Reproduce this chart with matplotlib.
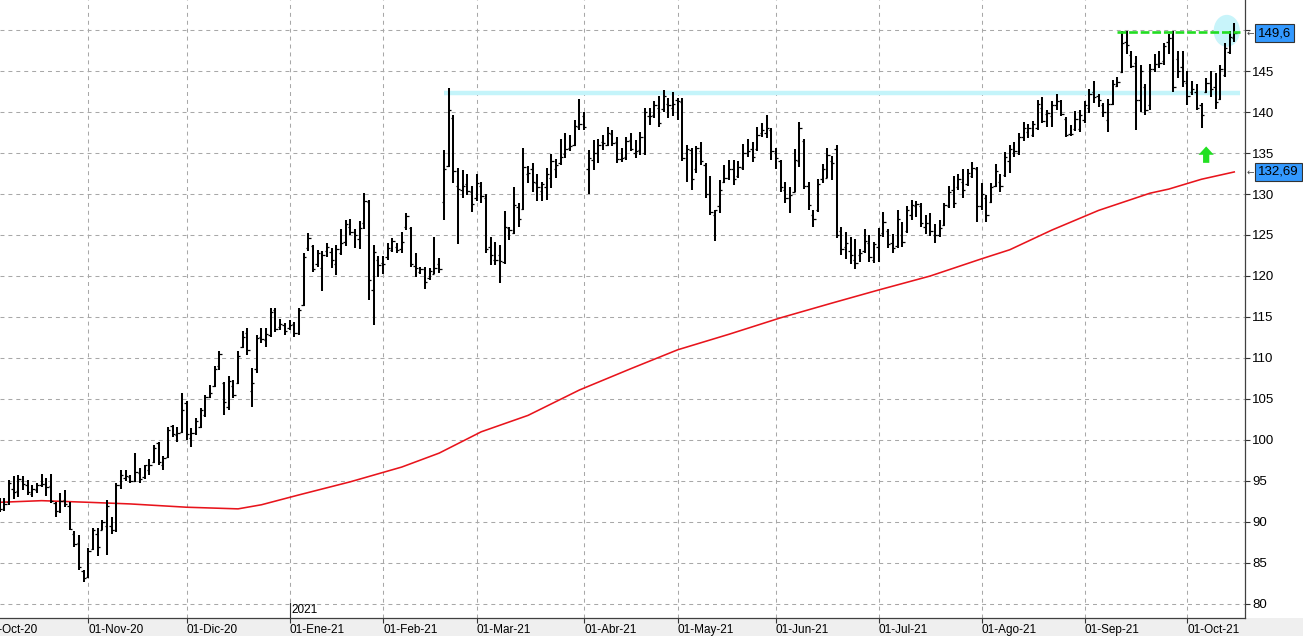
import numpy as np
import matplotlib.pyplot as plt
import matplotlib.transforms as mtransforms
from matplotlib.patches import Ellipse, Rectangle

plt.rcParams['font.family'] = ['Liberation Sans', 'DejaVu Sans']

# daily OHLC bars, bar index 0 = 01-Oct-20 (trading days)
first_bar = 3
highs = [92.9, 92.9, 95.1, 95.6, 95.7, 95.6, 95.1, 94.5, 94.8, 95.8,
         95.4, 95.8, 92.4, 93.5, 93.9, 92.4, 88.9, 88.4, 84.1, 86.8,
         89.3, 89.3, 90.2, 92.7, 90.6, 94.8, 96.3, 96.3, 95.7, 98.4,
         96.6, 97.0, 97.7, 99.4, 99.8, 98.0, 101.6, 101.8, 101.6, 105.7,
         104.7, 101.5, 102.7, 103.9, 105.5, 106.7, 109.0, 110.8, 107.1, 107.8,
         107.3, 110.8, 113.3, 113.7, 108.8, 112.8, 113.7, 113.7, 116.1, 116.1,
         114.8, 114.3, 114.6, 114.4, 116.1, 122.8, 125.2, 123.8, 123.2, 123.1,
         124.0, 123.4, 123.8, 125.7, 126.8, 126.9, 125.7, 126.7, 130.1, 129.3,
         123.8, 122.4, 122.4, 124.0, 124.6, 124.0, 125.4, 127.7, 126.0, 122.8,
         121.1, 121.1, 121.0, 124.8, 122.2, 135.4, 142.9, 139.6, 133.2, 132.9,
         132.4, 131.0, 132.4, 131.5, 130.0, 124.8, 124.2, 123.8, 127.9, 126.0,
         130.8, 128.9, 135.6, 133.4, 133.8, 132.4, 131.5, 133.2, 134.9, 134.3,
         136.7, 137.4, 137.2, 139.0, 141.6, 140.0, 135.4, 136.6, 136.7, 137.2,
         138.2, 137.8, 137.0, 135.6, 137.0, 137.4, 136.6, 137.6, 140.5, 140.5,
         141.3, 141.9, 142.7, 141.7, 142.5, 141.7, 141.7, 136.0, 135.6, 135.8,
         136.3, 133.8, 132.2, 128.0, 131.7, 133.5, 134.1, 134.1, 134.0, 136.1,
         136.7, 136.4, 138.2, 138.6, 139.6, 138.0, 135.6, 134.1, 131.5, 130.8,
         135.5, 138.8, 136.7, 131.5, 128.1, 131.8, 133.7, 135.6, 134.6, 136.0,
         126.0, 125.4, 124.8, 124.5, 123.3, 125.7, 125.0, 124.2, 125.8, 127.8,
         125.7, 125.1, 128.0, 126.6, 128.5, 129.3, 129.1, 128.9, 127.4, 127.7,
         126.3, 126.8, 128.9, 131.0, 132.2, 132.5, 133.1, 133.1, 133.9, 133.3,
         131.3, 129.9, 131.4, 133.7, 132.4, 135.1, 136.0, 136.4, 137.4, 138.8,
         138.5, 138.9, 141.5, 141.8, 140.2, 141.3, 142.2, 141.5, 139.4, 138.4,
         140.1, 140.2, 141.3, 142.8, 143.8, 142.2, 141.1, 141.6, 143.9, 144.3,
         149.9, 149.9, 147.4, 146.8, 145.7, 143.4, 145.9, 147.1, 147.4, 148.4,
         149.5, 149.9, 147.4, 147.4, 145.0, 143.8, 143.4, 141.1, 144.1, 145.0,
         144.7, 145.7, 148.4, 149.9, 150.9]
lows = [91.2, 91.3, 92.1, 92.8, 93.0, 93.9, 93.3, 93.0, 93.5, 94.3,
        93.2, 92.3, 90.6, 91.1, 91.8, 89.0, 87.0, 84.1, 82.7, 83.2,
        86.6, 85.8, 89.0, 86.0, 88.5, 88.8, 94.0, 95.0, 94.8, 94.9,
        94.8, 95.3, 95.7, 97.2, 97.0, 96.3, 97.8, 100.4, 99.8, 100.9,
        100.0, 99.2, 100.6, 101.5, 102.8, 105.1, 106.5, 108.5, 103.0, 103.7,
        105.1, 106.8, 111.2, 110.4, 104.0, 108.2, 111.8, 111.4, 112.6, 113.2,
        113.4, 112.8, 113.4, 112.6, 112.8, 116.3, 123.0, 120.5, 121.1, 118.2,
        122.3, 121.0, 120.1, 122.6, 123.7, 125.0, 123.4, 123.3, 125.7, 117.1,
        114.0, 119.9, 120.3, 122.0, 122.9, 122.8, 122.8, 125.6, 121.1, 119.9,
        120.3, 118.4, 119.5, 120.2, 120.4, 126.8, 133.3, 131.4, 123.9, 129.5,
        129.9, 127.8, 129.1, 128.9, 122.8, 121.3, 121.3, 119.2, 121.5, 124.4,
        125.1, 126.0, 128.0, 131.4, 130.2, 129.2, 129.1, 129.3, 130.7, 132.0,
        133.5, 134.4, 135.2, 135.8, 137.8, 137.8, 130.0, 132.9, 133.8, 135.4,
        135.8, 135.8, 133.8, 133.9, 134.1, 135.2, 134.4, 134.8, 134.8, 138.4,
        139.3, 138.2, 140.0, 139.3, 139.5, 139.0, 134.0, 131.5, 130.5, 132.6,
        133.5, 129.5, 127.4, 124.3, 127.7, 131.3, 131.7, 131.1, 131.9, 132.9,
        134.5, 133.9, 135.2, 137.0, 136.8, 134.1, 133.1, 130.3, 128.9, 127.7,
        130.2, 133.3, 130.6, 128.0, 126.0, 127.8, 131.4, 131.9, 131.7, 124.6,
        122.6, 122.1, 121.5, 120.9, 121.7, 122.8, 121.7, 121.6, 121.7, 124.8,
        123.4, 122.8, 123.4, 123.5, 125.3, 126.8, 127.2, 126.0, 125.1, 124.9,
        124.0, 124.8, 126.1, 128.3, 128.3, 130.5, 129.5, 131.0, 131.9, 126.6,
        128.0, 126.6, 128.9, 130.9, 130.2, 132.1, 132.6, 134.5, 134.8, 136.5,
        136.8, 136.9, 137.8, 138.6, 138.2, 138.2, 140.2, 139.5, 136.9, 137.1,
        137.7, 137.6, 138.7, 139.9, 141.1, 140.6, 139.4, 137.6, 140.9, 143.0,
        144.8, 147.1, 145.4, 137.8, 140.0, 139.6, 140.3, 144.9, 145.4, 145.7,
        147.1, 142.5, 144.2, 143.1, 140.9, 142.1, 140.2, 138.1, 142.3, 141.8,
        140.4, 141.5, 144.3, 147.1, 148.5]
opens = [92.5, 91.6, 92.4, 94.0, 93.8, 95.0, 94.5, 93.4, 93.9, 94.5,
         94.6, 94.4, 92.3, 91.4, 92.7, 92.0, 88.5, 87.4, 84.0, 83.3,
         86.7, 88.5, 89.0, 89.5, 89.5, 89.0, 94.5, 95.4, 95.5, 95.0,
         96.0, 95.5, 96.3, 97.3, 99.6, 97.0, 97.9, 101.7, 100.6, 101.0,
         104.5, 100.3, 100.8, 101.6, 103.0, 105.3, 106.6, 109.0, 106.9, 104.0,
         106.6, 107.0, 111.4, 113.0, 106.0, 108.7, 112.5, 112.2, 112.8, 115.9,
         113.8, 114.0, 113.6, 114.1, 113.0, 116.5, 123.4, 123.6, 121.5, 121.0,
         123.0, 122.9, 121.5, 122.8, 124.2, 126.0, 125.4, 124.5, 126.5, 129.0,
         118.3, 122.0, 121.6, 122.3, 123.2, 123.5, 123.3, 126.0, 125.9, 121.2,
         120.5, 120.9, 119.8, 120.3, 121.5, 129.0, 133.4, 139.3, 131.0, 130.5,
         131.2, 130.2, 129.5, 131.0, 129.5, 123.5, 122.0, 122.5, 121.7, 125.8,
         125.3, 128.4, 128.2, 132.4, 133.0, 131.4, 130.4, 130.8, 132.0, 133.0,
         133.8, 134.9, 135.6, 136.0, 138.2, 139.5, 133.0, 134.2, 135.0, 136.4,
         136.0, 137.3, 136.4, 134.3, 134.5, 136.6, 135.0, 135.4, 135.0, 139.5,
         139.6, 140.5, 140.4, 141.0, 140.5, 141.5, 141.2, 135.0, 135.4, 133.0,
         135.3, 133.5, 130.0, 127.5, 128.5, 131.5, 132.0, 133.0, 132.2, 133.2,
         135.0, 135.5, 135.5, 137.4, 137.5, 137.8, 135.0, 134.0, 130.5, 129.5,
         130.3, 134.0, 136.5, 131.0, 127.5, 128.0, 131.8, 132.0, 134.0, 135.5,
         125.5, 123.5, 123.0, 122.0, 122.5, 123.0, 124.0, 122.0, 123.5, 125.3,
         125.5, 124.0, 123.6, 125.0, 125.5, 127.5, 128.5, 128.5, 126.0, 126.5,
         125.0, 125.0, 126.2, 128.5, 130.5, 130.8, 131.5, 131.2, 132.2, 133.0,
         128.5, 129.5, 129.0, 131.0, 131.5, 132.3, 134.0, 135.0, 135.0, 136.9,
         137.6, 137.2, 138.0, 140.5, 139.8, 139.5, 140.9, 141.4, 139.2, 137.3,
         137.9, 137.9, 139.0, 140.5, 142.5, 141.9, 140.8, 139.0, 141.0, 143.2,
         144.9, 148.5, 147.0, 146.0, 141.5, 143.0, 140.8, 145.2, 145.8, 146.2,
         148.5, 149.0, 146.5, 145.5, 143.5, 142.5, 142.5, 140.8, 142.4, 143.5,
         143.0, 141.6, 144.5, 147.3, 149.0]
closes = [91.6, 92.2, 94.8, 93.6, 95.3, 94.6, 93.6, 94.0, 94.5, 94.6,
          94.3, 92.6, 91.3, 92.6, 92.2, 89.2, 87.3, 84.5, 83.2, 86.5,
          89.0, 87.0, 90.0, 91.9, 89.0, 94.5, 95.7, 95.6, 95.0, 96.1,
          95.2, 96.9, 97.0, 99.0, 97.3, 97.8, 101.2, 100.7, 100.9, 103.7,
          100.7, 100.9, 102.3, 103.6, 105.3, 105.7, 108.7, 110.5, 104.6, 107.2,
          105.5, 110.3, 112.5, 111.0, 107.0, 112.4, 112.3, 112.9, 115.6, 113.5,
          114.2, 113.3, 114.0, 113.0, 115.9, 122.3, 124.6, 120.8, 122.8, 122.6,
          123.5, 122.0, 123.3, 124.0, 126.3, 125.4, 125.0, 125.8, 129.2, 119.5,
          122.9, 121.4, 121.5, 123.4, 124.3, 123.2, 124.2, 127.3, 121.5, 121.0,
          120.9, 119.3, 120.6, 121.0, 120.8, 133.1, 140.3, 132.8, 130.6, 131.0,
          130.4, 128.8, 131.3, 129.8, 123.3, 122.5, 122.0, 121.8, 126.0, 125.6,
          128.6, 127.0, 133.3, 132.6, 131.5, 130.8, 131.2, 132.5, 134.0, 133.5,
          134.5, 135.5, 135.8, 138.3, 138.5, 138.2, 134.4, 135.0, 136.0, 136.2,
          137.5, 136.2, 134.3, 134.4, 136.5, 135.5, 135.2, 137.0, 140.0, 139.5,
          140.8, 138.6, 142.0, 140.8, 141.0, 141.4, 134.4, 135.5, 131.8, 135.6,
          134.0, 130.0, 127.8, 128.0, 130.5, 132.0, 133.1, 131.8, 133.3, 135.0,
          135.3, 134.5, 137.2, 137.8, 138.0, 135.2, 134.4, 130.8, 129.5, 129.9,
          134.2, 138.0, 131.0, 128.6, 127.0, 131.2, 133.0, 134.8, 133.8, 125.0,
          123.3, 124.0, 122.5, 121.6, 122.8, 124.3, 122.3, 123.9, 125.0, 126.6,
          123.9, 123.4, 127.0, 124.2, 128.0, 128.6, 128.8, 126.5, 126.5, 125.5,
          125.0, 125.8, 128.6, 130.3, 128.9, 131.8, 130.5, 132.6, 133.2, 128.5,
          130.0, 127.5, 130.8, 132.8, 131.0, 134.5, 135.5, 135.2, 137.0, 138.0,
          138.0, 138.5, 141.0, 138.9, 139.9, 140.8, 141.4, 139.8, 137.2, 137.3,
          139.2, 139.6, 140.8, 142.2, 141.8, 141.5, 140.0, 141.0, 143.4, 143.6,
          148.4, 148.2, 145.6, 141.5, 145.0, 140.2, 145.3, 145.8, 146.0, 148.0,
          149.0, 143.0, 145.0, 143.8, 142.0, 142.8, 140.5, 139.6, 143.5, 142.8,
          141.2, 145.2, 147.8, 149.2, 149.6]

# long moving average, read at a few bars
ma_pos = [3, 12, 22, 31, 43, 54, 59, 67, 78, 89, 97, 106, 116, 127, 138,
          148, 159, 170, 181, 191, 202, 213, 219, 228, 238, 249, 253, 260, 267]
ma_val = [92.4, 92.6, 92.4, 92.2, 91.8, 91.6, 92.1, 93.3, 94.9, 96.7, 98.4,
          101.0, 103.0, 106.1, 108.7, 111.0, 112.9, 114.9, 116.7, 118.3, 120.0,
          122.1, 123.2, 125.6, 128.0, 130.1, 130.6, 131.8, 132.69]

month_pos = [0, 22, 43, 65, 85, 105, 128, 148, 169, 191, 213, 235, 257]
month_labels = ['01-Oct-20', '01-Nov-20', '01-Dic-20', '01-Ene-21', '01-Feb-21',
                '01-Mar-21', '01-Abr-21', '01-May-21', '01-Jun-21', '01-Jul-21',
                '01-Ago-21', '01-Sep-21', '01-Oct-21']
year_pos = 65
year_label = '2021'

resistance = 142.3
resistance_start = 98
top_level = 149.8
top_start = 242
last_close = 149.6
last_ma = 132.69
signal_pos = 261
signal_low, signal_high = 133.8, 135.8
circle_pos, circle_price = 265.4, 149.9

W, H = 1303, 636
fig = plt.figure(figsize=(W / 100, H / 100), dpi=100)
fig.add_artist(Rectangle((0, 0), 1, 18 / H, transform=fig.transFigure,
                         facecolor='#efefef', edgecolor='none', zorder=0))
ax = fig.add_axes([0, 18 / H, 1245 / W, 618 / H])

x = np.arange(first_bar, first_bar + len(highs))

# highlight objects drawn on the chart
ax.hlines(resistance, resistance_start, 268.3, color='#c4f4fa', lw=3.2, zorder=2)
ax.add_patch(Ellipse((circle_pos, circle_price), 5.6, 3.9, facecolor='#c8f4fa',
                     edgecolor='none', zorder=2))
ax.hlines(top_level, top_start, 268.3, color='#22dd22', lw=1.9,
          linestyles=(0, (3.3, 1.1)), zorder=4)
ax.annotate('', xy=(signal_pos, signal_high), xytext=(signal_pos, signal_low),
            arrowprops=dict(arrowstyle='simple,head_width=1.1,head_length=0.6,tail_width=0.45',
                            fc='#22e022', ec='none', mutation_scale=10,
                            shrinkA=0, shrinkB=0))

ax.plot(ma_pos, ma_val, color='#e8141c', lw=1.15, zorder=2.5)

ax.vlines(x, lows, highs, color='black', lw=1.45, zorder=3)
ax.hlines(opens, x - 0.5, x, color='black', lw=0.9, zorder=3)
ax.hlines(closes, x, x + 0.5, color='black', lw=0.9, zorder=3)

ax.set_xlim(3.1, 269.3)
ax.set_ylim(78.29, 153.66)

ax.grid(True, color='#a8a8a8', lw=0.75, linestyle=(0, (3.8, 3.8)), zorder=1)
ax.set_axisbelow(True)

yt = np.arange(80, 151, 5)
ax.yaxis.tick_right()
ax.set_yticks(yt)
ax.set_yticklabels([str(v) if v < 150 else '' for v in yt])
ax.tick_params(axis='y', direction='out', length=3.6, width=0.8, pad=1.5,
               labelsize=9.5, color='#333333')

ax.set_xticks(month_pos[1:])
ax.set_xticklabels(month_labels[1:], ha='left')
ax.tick_params(axis='x', direction='out', length=3.6, width=0.8, pad=0.5,
               labelsize=8.5, color='#333333')
ax.annotate(month_labels[0], xy=(month_pos[0], 0),
            xycoords=mtransforms.blended_transform_factory(ax.transData, ax.transAxes),
            xytext=(0, -4.1), textcoords='offset points', ha='left', va='top',
            fontsize=8.5, annotation_clip=False)

# year marker
ax.axvline(year_pos, ymin=0, ymax=15 / 618, color='#333333', lw=0.8, zorder=5)
ax.text(year_pos + 0.4, 0.004, year_label, transform=mtransforms.blended_transform_factory(
    ax.transData, ax.transAxes), ha='left', va='bottom', fontsize=8.5)

for s in ['left', 'top']:
    ax.spines[s].set_visible(False)
for s in ['right', 'bottom']:
    ax.spines[s].set_color('#404040')
    ax.spines[s].set_linewidth(0.9)

# last value boxes on the price axis
trans = mtransforms.blended_transform_factory(ax.transAxes, ax.transData)
for val, txt in [(last_close, f'{last_close:.1f}'), (last_ma, f'{last_ma:.2f}')]:
    ax.text(1.0105, val, txt.replace('.', ','), transform=trans, ha='left', va='center',
            fontsize=9.5, clip_on=False, zorder=10,
            bbox=dict(boxstyle='square,pad=0.22', fc='#3399ff', ec='#333333', lw=0.8))
    ax.text(1.0012, val, '\u2190', transform=trans, ha='left', va='center',
            fontsize=6.5, color='#444444', clip_on=False, family='DejaVu Sans')

fig.savefig('out.png', dpi=100)
